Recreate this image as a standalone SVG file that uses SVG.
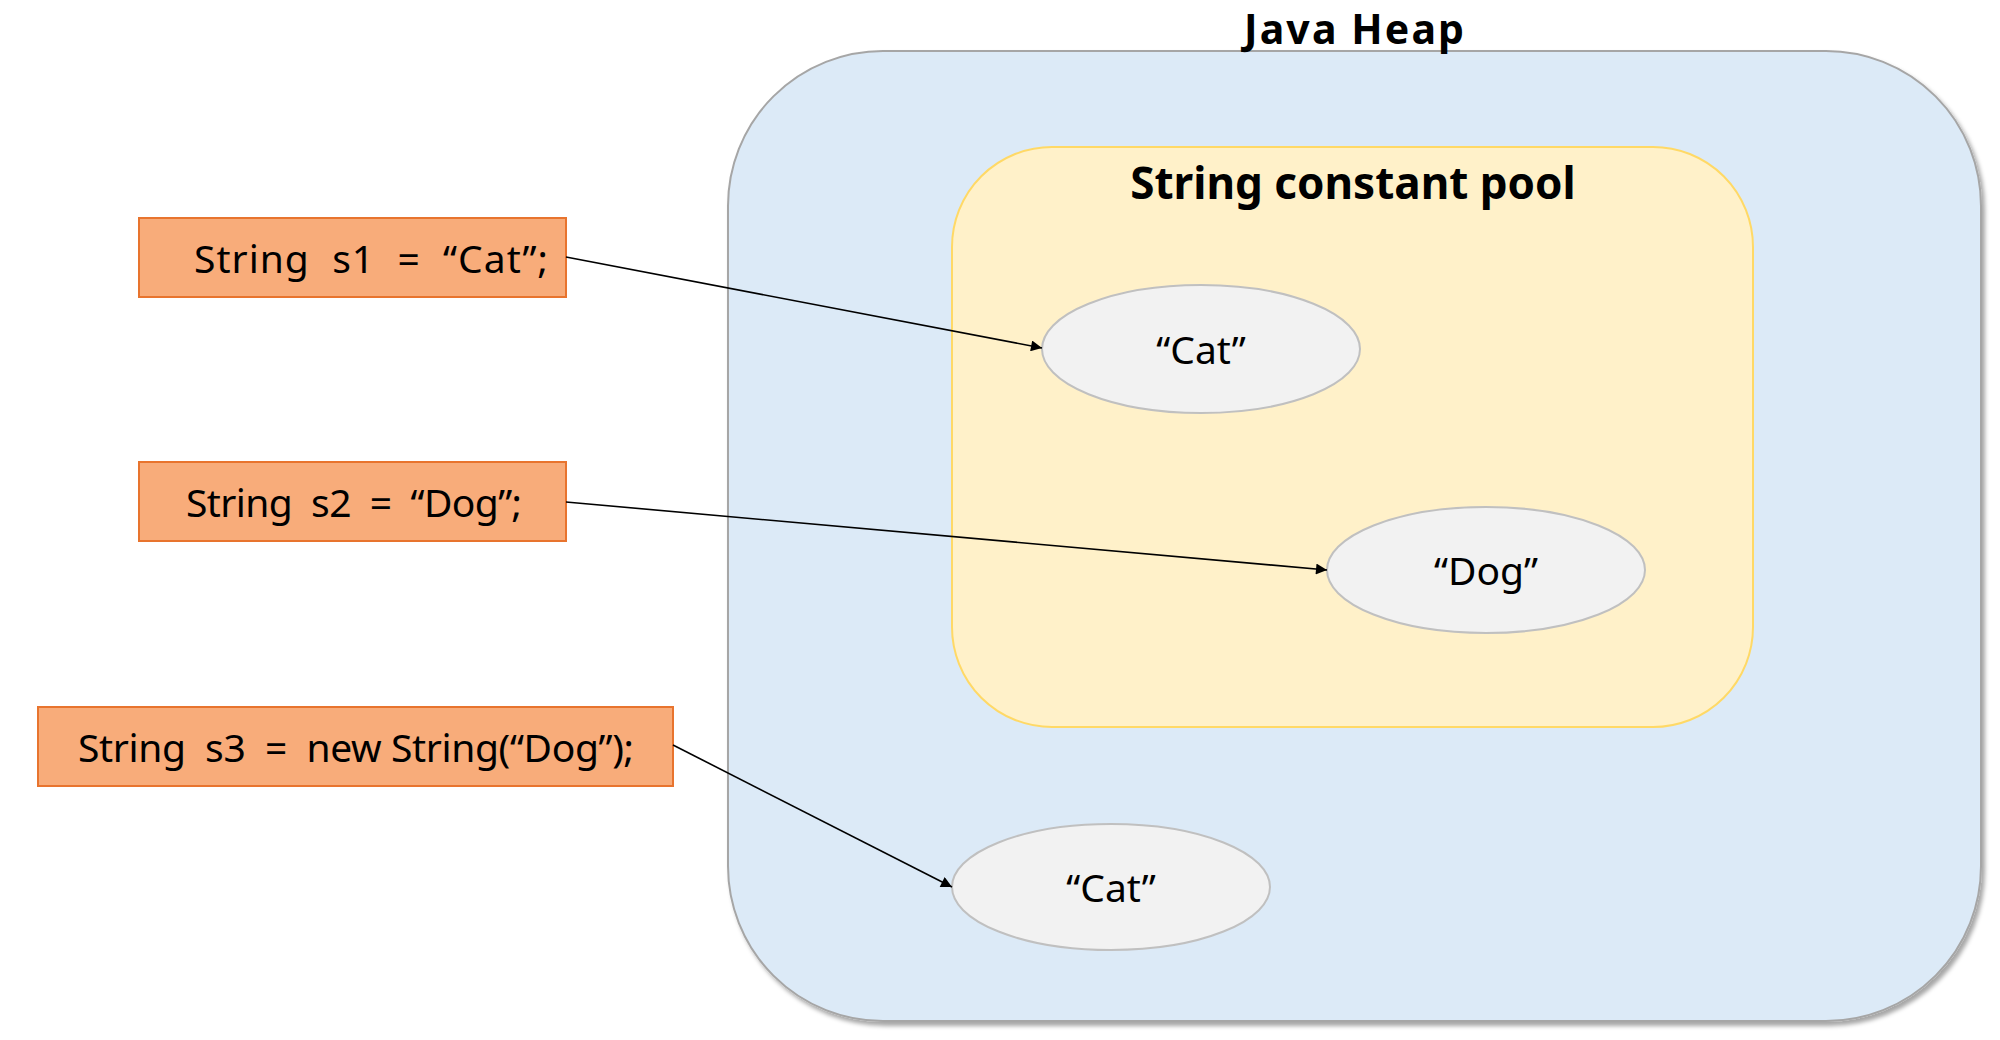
<svg xmlns="http://www.w3.org/2000/svg" width="2000" height="1040" viewBox="0 0 2000 1040">
<style>
.title{font-family:"Noto Sans","Open Sans","Liberation Sans",sans-serif;font-weight:bold;font-size:44px;fill:#000;text-anchor:middle}
.lbl{font-family:"Noto Sans","Open Sans","Liberation Sans",sans-serif;font-size:39px;fill:#000;text-anchor:middle}
.lbs{font-family:"Noto Sans","Open Sans","Liberation Sans",sans-serif;font-size:39px;fill:#000}
.box{fill:#F8AC7A;stroke:#E8742E;stroke-width:2}
.obj{fill:#F2F2F2;stroke:#C0C0C0;stroke-width:2}
.conn{stroke:#000;stroke-width:1.6;fill:none;marker-end:url(#arr)}
</style>
<defs>
<marker id="arr" viewBox="0 0 10 10" refX="10" refY="5" markerWidth="12" markerHeight="11" markerUnits="userSpaceOnUse" orient="auto">
<path d="M0,0 L10,5 L0,10 z" fill="#000"/>
</marker>
<filter id="sh" x="-5%" y="-5%" width="110%" height="110%">
<feDropShadow dx="3" dy="4" stdDeviation="2" flood-color="#000" flood-opacity="0.35"/>
</filter>
</defs>
<rect width="2000" height="1040" fill="#fff"/>
<g id="heap">
<rect x="728" y="51" width="1253" height="970" rx="155" ry="155" fill="#DCEAF7" stroke="#A6A6A6" stroke-width="2" filter="url(#sh)"/>
<text class="title" x="1354" y="44" style="font-size:41px" textLength="220">Java Heap</text>
</g>
<g id="pool">
<rect x="952" y="147" width="801" height="580" rx="100" ry="100" fill="#FFF1C9" stroke="#FFD966" stroke-width="2"/>
<text class="title" x="1353" y="199">String constant pool</text>
</g>
<g id="cat1">
<ellipse class="obj" cx="1201" cy="349" rx="159" ry="64"/>
<text class="lbl" x="1201" y="364">“Cat”</text>
</g>
<g id="dog">
<ellipse class="obj" cx="1486" cy="570" rx="159" ry="63"/>
<text class="lbl" x="1486" y="585">“Dog”</text>
</g>
<g id="cat2">
<ellipse class="obj" cx="1111" cy="887" rx="159" ry="63"/>
<text class="lbl" x="1111" y="902">“Cat”</text>
</g>
<g id="s1">
<rect class="box" x="139" y="218" width="427" height="79"/>
<text class="lbs" x="194" y="273" textLength="354" xml:space="preserve">String  s1  =  “Cat”;</text>
</g>
<g id="s2">
<rect class="box" x="139" y="462" width="427" height="79"/>
<text class="lbs" x="186" y="517" textLength="336" xml:space="preserve">String  s2  =  “Dog”;</text>
</g>
<g id="s3">
<rect class="box" x="38" y="707" width="635" height="79"/>
<text class="lbs" x="78" y="762" textLength="556" xml:space="preserve">String  s3  =  new String(“Dog”);</text>
</g>
<g id="connectors">
<line class="conn" x1="566" y1="257" x2="1042" y2="348"/>
<line class="conn" x1="566" y1="502" x2="1327" y2="570"/>
<line class="conn" x1="673" y1="745" x2="952" y2="887"/>
</g>
</svg>
